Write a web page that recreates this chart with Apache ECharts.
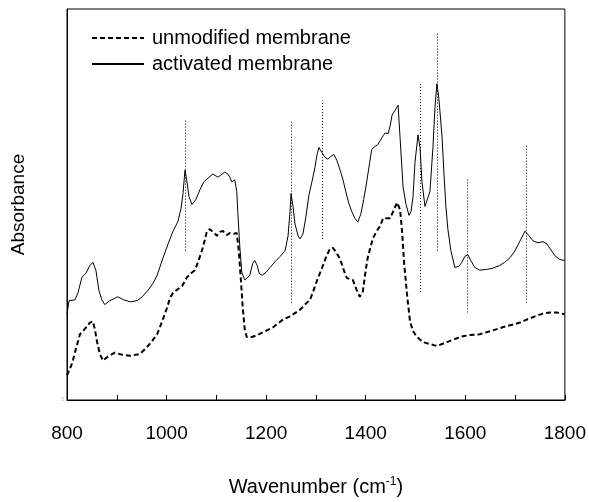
<!DOCTYPE html>
<html><head><meta charset="utf-8">
<script src="https://cdn.jsdelivr.net/npm/echarts@6/dist/echarts.min.js"></script>
<style>html,body{margin:0;padding:0;background:#fff}#c{width:589px;height:502px}</style>
</head><body><div id="c"></div>
<script>
// Activated membrane (solid)
const actWn = [800,804,816,822,830,838,846,852,858,864,870,876,886,902,914,927,941,951,963,973,981,993,1003,1013,1023,1029,1033,1037,1041,1045,1051,1059,1067,1075,1081,1093,1103,1109,1117,1123,1127,1131,1137,1141,1143,1147,1151,1157,1161,1167,1173,1177,1182,1186,1192,1200,1208,1218,1228,1238,1244,1248,1250,1254,1258,1264,1268,1274,1280,1286,1292,1298,1302,1306,1312,1318,1324,1330,1336,1342,1348,1354,1360,1366,1372,1378,1384,1390,1396,1402,1408,1412,1418,1424,1429,1435,1439,1445,1449,1453,1459,1465,1469,1475,1481,1487,1491,1495,1499,1505,1509,1513,1519,1523,1529,1535,1539,1543,1547,1553,1557,1561,1565,1571,1579,1587,1593,1599,1605,1611,1619,1629,1643,1655,1669,1679,1690,1700,1710,1720,1728,1736,1746,1756,1764,1772,1780,1790,1800];
const actAbs = [0.220,0.254,0.256,0.274,0.314,0.324,0.344,0.352,0.332,0.281,0.256,0.244,0.254,0.264,0.256,0.251,0.254,0.264,0.281,0.299,0.319,0.364,0.399,0.432,0.457,0.490,0.528,0.588,0.558,0.520,0.500,0.513,0.538,0.558,0.565,0.578,0.570,0.575,0.583,0.578,0.570,0.558,0.563,0.533,0.482,0.394,0.327,0.307,0.302,0.319,0.349,0.357,0.344,0.324,0.319,0.327,0.339,0.354,0.367,0.382,0.420,0.482,0.528,0.495,0.450,0.420,0.412,0.425,0.470,0.525,0.558,0.595,0.626,0.646,0.633,0.621,0.616,0.623,0.628,0.613,0.590,0.565,0.533,0.503,0.482,0.465,0.455,0.475,0.513,0.558,0.608,0.641,0.648,0.653,0.663,0.676,0.683,0.681,0.701,0.729,0.741,0.754,0.671,0.545,0.500,0.472,0.482,0.520,0.608,0.678,0.646,0.558,0.495,0.490,0.533,0.646,0.746,0.809,0.771,0.678,0.583,0.495,0.437,0.382,0.339,0.342,0.352,0.367,0.372,0.357,0.339,0.332,0.334,0.337,0.344,0.352,0.364,0.382,0.407,0.432,0.420,0.407,0.402,0.405,0.399,0.384,0.369,0.359,0.357];
// Unmodified membrane (dashed)
const unmWn = [800,810,818,826,832,840,846,852,856,860,866,872,882,896,910,927,947,961,971,981,991,1001,1007,1013,1023,1031,1041,1049,1057,1063,1071,1077,1081,1087,1093,1101,1107,1113,1121,1127,1135,1141,1145,1149,1153,1157,1161,1171,1182,1198,1214,1234,1248,1268,1278,1288,1294,1304,1312,1320,1328,1334,1340,1348,1356,1362,1374,1382,1388,1394,1400,1404,1414,1422,1429,1435,1449,1455,1463,1469,1473,1477,1483,1489,1495,1503,1515,1529,1543,1563,1579,1595,1609,1629,1655,1675,1696,1710,1724,1740,1756,1770,1784,1800];
const unmAbs = [0.063,0.093,0.131,0.168,0.176,0.188,0.198,0.201,0.181,0.151,0.118,0.101,0.111,0.121,0.116,0.113,0.118,0.136,0.151,0.168,0.201,0.236,0.261,0.274,0.284,0.291,0.314,0.324,0.332,0.352,0.382,0.410,0.432,0.437,0.430,0.420,0.430,0.432,0.422,0.427,0.425,0.427,0.382,0.312,0.236,0.181,0.161,0.161,0.166,0.176,0.186,0.206,0.214,0.231,0.244,0.256,0.276,0.312,0.337,0.364,0.387,0.389,0.379,0.362,0.332,0.312,0.307,0.281,0.264,0.276,0.332,0.364,0.412,0.432,0.445,0.465,0.465,0.482,0.505,0.487,0.432,0.352,0.269,0.201,0.176,0.161,0.148,0.143,0.138,0.148,0.156,0.163,0.166,0.168,0.178,0.186,0.193,0.198,0.206,0.214,0.221,0.224,0.224,0.219];
// Peak marker lines
const markerWn = [1037,1250,1312,1509,1543,1603,1722];
const markerTop = [0.716,0.716,0.766,0.809,0.942,0.565,0.651];
const markerBottom = [0.382,0.249,0.412,0.276,0.382,0.224,0.249];
const xTicks = [800,1000,1200,1400,1600,1800];
const seriesNames = ['unmodified membrane','activated membrane'];

const zip = (a,b) => a.map((v,i)=>[v,b[i]]);
const FONT = 'Liberation Sans, Arial, sans-serif';
const chart = echarts.init(document.getElementById('c'), null, {renderer:'canvas'});
chart.setOption({
  animation:false,
  backgroundColor:'#fff',
  grid:{left:67,right:24,top:9,bottom:95,show:true,borderColor:'#000',borderWidth:1,backgroundColor:'transparent'},
  legend:{
    orient:'vertical', left:91, top:28, padding:0, itemGap:6,
    itemWidth:52, itemHeight:14,
    data:seriesNames,
    itemStyle:{opacity:0},
    textStyle:{fontFamily:FONT,fontSize:20,color:'#000',padding:[0,0,0,3]}
  },
  xAxis:{
    type:'value', min:800, max:1800, interval:100,
    name:'{a|Wavenumber (cm}{s|-1}{a|)}', nameLocation:'middle', nameGap:76,
    nameTextStyle:{rich:{a:{fontFamily:FONT,fontSize:20,color:'#000'},s:{fontFamily:FONT,fontSize:12,color:'#000',verticalAlign:'top',padding:[0,0,10,0]}}},
    axisLine:{lineStyle:{color:'#000',width:1}},
    axisTick:{inside:true,length:5,lineStyle:{color:'#000'}},
    axisLabel:{margin:24,fontFamily:FONT,fontSize:19,color:'#000',formatter:v=>xTicks.includes(v)?String(v):''},
    splitLine:{show:false}
  },
  yAxis:{
    type:'value', min:0, max:1,
    name:'Absorbance', nameLocation:'middle', nameGap:39, nameRotate:90,
    nameTextStyle:{fontFamily:FONT,fontSize:19,color:'#000'},
    axisLine:{show:true,lineStyle:{color:'#000',width:1}},
    axisTick:{show:false},
    axisLabel:{show:true,margin:3,fontSize:5,color:'#aaa',formatter:v=>v===0?'0':''},
    splitLine:{show:false}
  },
  series:[
    {name:seriesNames[0],type:'line',data:zip(unmWn,unmAbs),showSymbol:false,symbol:'none',
     lineStyle:{color:'#000',width:2,type:[5,3]},itemStyle:{color:'#000'}},
    {name:seriesNames[1],type:'line',data:zip(actWn,actAbs),showSymbol:false,symbol:'none',
     lineStyle:{color:'#000',width:1},itemStyle:{color:'#000'}},
    {name:'markers',type:'line',data:[],silent:true,
     markLine:{symbol:'none',silent:true,label:{show:false},
       lineStyle:{color:'#000',width:1,type:[1,2]},
       data:markerWn.map((w,i)=>[{coord:[w,markerBottom[i]]},{coord:[w,markerTop[i]]}])}}
  ]
});
</script></body></html>
